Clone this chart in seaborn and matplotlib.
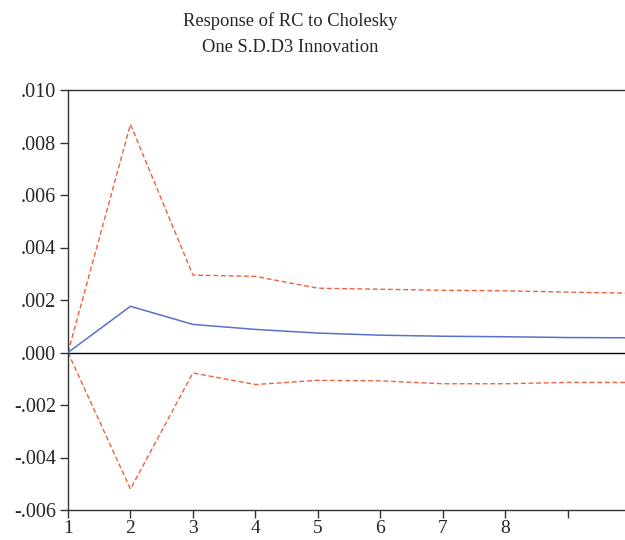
import numpy as np
import pandas as pd
import matplotlib
matplotlib.use("Agg")
import matplotlib.pyplot as plt
import seaborn as sns

periods = [1, 2, 3, 4, 5, 6, 7, 8, 9, 10]
response = [0.0, 0.00176, 0.00107, 0.00088, 0.00074, 0.00066, 0.00062, 0.00060, 0.00057, 0.00056]
upper = [0.0, 0.00869, 0.00295, 0.00290, 0.00245, 0.00241, 0.00237, 0.00235, 0.00230, 0.00226]
lower = [0.0, -0.00520, -0.00078, -0.00122, -0.00106, -0.00108, -0.00119, -0.00119, -0.00114, -0.00114]
yticks = [-0.006, -0.004, -0.002, 0.000, 0.002, 0.004, 0.006, 0.008, 0.010]
ytick_labels = ["-.006", "-.004", "-.002", ".000", ".002", ".004", ".006", ".008", ".010"]
xticks = [1, 2, 3, 4, 5, 6, 7, 8, 9]
xtick_labels = ["1", "2", "3", "4", "5", "6", "7", "8", ""]
title = "Response of RC to Cholesky\nOne S.D.D3 Innovation"

sns.set_style("ticks")
plt.rcParams["font.family"] = ["Liberation Serif", "DejaVu Serif"]

df = pd.DataFrame({"period": periods, "response": response, "upper": upper, "lower": lower})

fig = plt.figure(figsize=(6.25, 5.4), dpi=100)
ax = fig.add_axes([68 / 625, 1 - 510 / 540, 1 - 68 / 625 + 0.008, (510 - 90) / 540])

ax.axhline(0, color="black", lw=1.0, zorder=1)
sns.lineplot(data=df, x="period", y="upper", ax=ax, color="#f0603f", lw=1.0,
             linestyle=(0, (3.5, 2)), zorder=2)
sns.lineplot(data=df, x="period", y="lower", ax=ax, color="#f0603f", lw=1.0,
             linestyle=(0, (3.5, 2)), zorder=2)
sns.lineplot(data=df, x="period", y="response", ax=ax, color="#5a70c8", lw=1.1, zorder=3)

ax.set_xlim(1, 10)
ax.set_ylim(-0.006, 0.010)
ax.set_yticks(yticks)
ax.set_yticklabels(ytick_labels, fontsize=14.5)
ax.set_xticks(xticks)
ax.set_xticklabels(xtick_labels, fontsize=14)
ax.set_xlabel("")
ax.set_ylabel("")
ax.tick_params(axis="both", direction="out", length=5.5, width=1, color="#333333")
ax.tick_params(axis="y", pad=3)
ax.tick_params(axis="x", pad=1.5)
for side in ["left", "top", "bottom"]:
    ax.spines[side].set_color("#333333")
    ax.spines[side].set_linewidth(1.0)
ax.spines["right"].set_visible(False)

fig.text(290 / 625, 1 - 34 / 540, title, ha="center", va="center",
         fontsize=13.3, linespacing=1.65)

fig.savefig("out.png", dpi=100)
